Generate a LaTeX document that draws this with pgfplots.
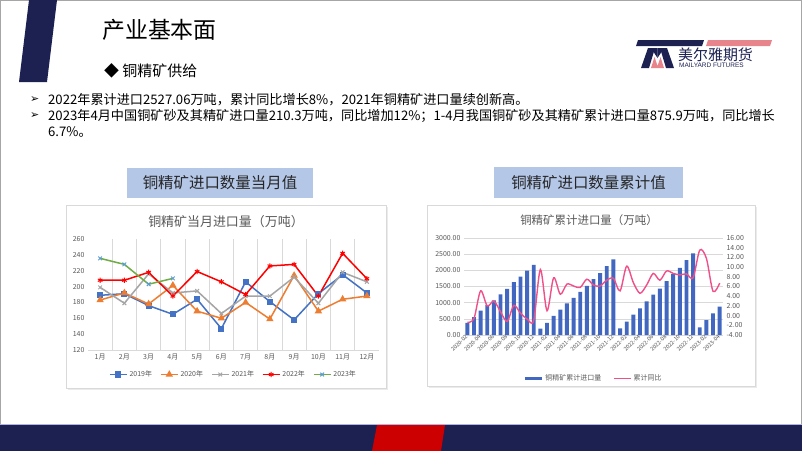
\documentclass[border=0pt]{standalone}
\usepackage{pgfplots}
\pgfplotsset{compat=1.18}
\usepackage{fontspec}
\setmainfont{Noto Sans CJK SC}
\newfontfamily\dejavu{DejaVu Sans}
\newfontfamily\libsans{Liberation Sans}
\definecolor{navy}{HTML}{1C2152}
\definecolor{logopink}{HTML}{E8848C}
\definecolor{boxblue}{HTML}{B4C7E7}
\definecolor{c19}{HTML}{4472C4}
\definecolor{c20}{HTML}{ED7D31}
\definecolor{c21}{HTML}{A5A5A5}
\definecolor{c22}{HTML}{FF0000}
\definecolor{c23}{HTML}{70AD47}
\definecolor{c23m}{HTML}{5B9BD5}
\definecolor{barblue}{HTML}{4267C0}
\definecolor{linepink}{HTML}{F0508A}
\definecolor{txtgray}{HTML}{595959}
\definecolor{gridgray}{HTML}{D9D9D9}
\definecolor{redbar}{HTML}{CC0000}
\begin{document}
\begin{tikzpicture}
\useasboundingbox (0,0) rectangle (802bp,-451bp);
\begin{scope}[x=1bp,y=-1bp]
\fill[white] (0,0) rectangle (802,451);
\draw[gray!70, line width=0.8bp] (0.4,0.4) rectangle (801.6,450.6);
% top-left navy shape
\fill[navy] (29,0) -- (57,0) -- (47,82) -- (19,82) -- cycle;
% title
\node[anchor=west, inner sep=0] at (102,30) {\fontsize{23}{26}\selectfont 产业基本面};
\node[anchor=west, inner sep=0] at (104,71) {\fontsize{15}{18}\selectfont ◆ 铜精矿供给};
% logo
\fill[navy] (638,40) -- (704,40) -- (702,46) -- (636,46) -- cycle;
\fill[logopink] (708,40) -- (772,40) -- (770,46) -- (706,46) -- cycle;
\fill[navy] (641,68) -- (648,48) -- (655,48) -- (649,68) -- cycle;
\fill[navy] (666,68) -- (660,48) -- (667,48) -- (674,68) -- cycle;
\fill[navy] (651,48) -- (657.5,48) -- (657.5,58) -- cycle;
\fill[navy] (664,48) -- (657.5,48) -- (657.5,58) -- cycle;
\fill[logopink] (651,68) -- (654.5,57) -- (657.5,66) -- (660.5,57) -- (664,68) -- cycle;
\node[anchor=west, inner sep=0, text=navy] at (678,55) {\fontsize{15}{16}\selectfont 美尔雅期货};
\node[anchor=west, inner sep=0, text=navy] at (679,65.5) {\libsans\fontsize{6.5}{7}\selectfont MAILYARD FUTURES};
% bullets
\node[anchor=west, inner sep=0] at (30,100) {\dejavu\fontsize{11}{12}\selectfont ➢};
\node[anchor=west, inner sep=0] at (30,116) {\dejavu\fontsize{11}{12}\selectfont ➢};
\node[anchor=west, inner sep=0] at (48,100) {\fontsize{13.2}{14}\selectfont 2022年累计进口2527.06万吨，累计同比增长8\%，2021年铜精矿进口量续创新高。};
\node[anchor=west, inner sep=0] at (48,116) {\fontsize{13.2}{14}\selectfont 2023年4月中国铜矿砂及其精矿进口量210.3万吨，同比增加12\%；1-4月我国铜矿砂及其精矿累计进口量875.9万吨，同比增长};
\node[anchor=west, inner sep=0] at (48,131.5) {\fontsize{13.2}{14}\selectfont 6.7\%。};
% subtitle boxes
\fill[boxblue] (127,168) rectangle (313,198);
\node[text=black!85] at (220,183) {\fontsize{15.5}{17}\selectfont 铜精矿进口数量当月值};
\fill[boxblue] (494,167) rectangle (683,198);
\node[text=black!85] at (588.5,182.5) {\fontsize{15.5}{17}\selectfont 铜精矿进口数量累计值};
% chart frames
\fill[black!8] (67.5,206.5) rectangle (387.5,389.5);
\filldraw[fill=white, draw=gridgray, line width=0.6bp] (66,205) rectangle (386,388);
\fill[black!8] (428.5,206.5) rectangle (756.5,387.5);
\filldraw[fill=white, draw=gridgray, line width=0.6bp] (427,205) rectangle (755,386);
\node[text=txtgray] at (226,222) {\fontsize{13}{15}\selectfont 铜精矿当月进口量（万吨）};
\node[text=txtgray] at (589,220) {\fontsize{11.5}{13}\selectfont 铜精矿累计进口量（万吨）};
% bottom bar
\fill[navy] (0,425) rectangle (802,451);
\draw[black!35!blue!30, line width=0.8bp] (0,424.6) -- (802,424.6);
\fill[redbar] (377,425) -- (445,425) -- (441,451) -- (372,451) -- cycle;
\end{scope}

% ---------- left chart ----------
\begin{axis}[
  at={(88bp,-350bp)}, anchor=south west,
  width=291bp, height=111bp, scale only axis,
  xmin=0.5, xmax=12.5, ymin=120, ymax=260,
  xtick={1,...,12},
  xticklabels={1月,2月,3月,4月,5月,6月,7月,8月,9月,10月,11月,12月},
  ytick={120,140,...,260},
  minor xtick={1.5,2.5,...,11.5}, xminorgrids,
  minor grid style={draw=gridgray, line width=0.6bp},
  axis x line*=bottom, axis y line*=left,
  x axis line style={-, draw=gridgray, line width=0.6bp},
  y axis line style={draw=none},
  major tick length=0, minor tick length=0,
  tick label style={font=\fontsize{7}{8}\selectfont, text=txtgray},
  /pgf/number format/assume math mode=true,
  legend style={at={(0.5,-0.15)}, anchor=north, draw=none, fill=none,
    legend columns=5, font=\fontsize{7}{8}\selectfont, text=txtgray,
    /tikz/every even column/.append style={column sep=6bp}},
  legend cell align=left,
]
\addplot[c19, line width=1.5bp, mark=square*, mark size=2.3bp, mark options={fill=c19}] coordinates {
(1,189) (2,191) (3,176) (4,165) (5,184) (6,147) (7,206) (8,181) (9,158) (10,191) (11,215) (12,192)};
\addlegendentry{2019年}
\addplot[c20, line width=1.5bp, mark=triangle*, mark size=2.8bp, mark options={fill=c20}] coordinates {
(1,183) (2,192) (3,178) (4,201.5) (5,169) (6,160) (7,180) (8,159) (9,214) (10,169) (11,184) (12,188)};
\addlegendentry{2020年}
\addplot[c21, line width=1.5bp, mark=x, mark size=2.6bp, mark options={line width=1bp}] coordinates {
(1,199) (2,179) (3,216) (4,192) (5,194.5) (6,166) (7,188) (8,188) (9,212) (10,179) (11,218) (12,206)};
\addlegendentry{2021年}
\addplot[c22, line width=1.5bp, mark=asterisk, mark size=2.6bp, mark options={line width=1bp}] coordinates {
(1,208) (2,208) (3,218) (4,188) (5,219) (6,206) (7,190) (8,226) (9,228) (10,188) (11,242) (12,210)};
\addlegendentry{2022年}
\addplot[c23, line width=1.5bp, mark=x, mark size=2.6bp, mark options={draw=c23m, line width=1bp}] coordinates {
(1,235.6) (2,228) (3,203) (4,210.3)};
\addlegendentry{2023年}
\end{axis}

% ---------- right chart: bars ----------
\begin{axis}[
  at={(464bp,-335bp)}, anchor=south west,
  width=259bp, height=97bp, scale only axis,
  xmin=-0.5, xmax=38.5, ymin=0, ymax=3000,
  ytick={0,500,...,3000},
  ybar, bar width=3.9bp,
  xtick={0,2,...,38},
  xticklabels={2020-02,2020-04,2020-06,2020-08,2020-10,2020-12,2021-02,2021-04,2021-06,2021-08,2021-10,2021-12,2022-02,2022-04,2022-06,2022-08,2022-10,2022-12,2023-02,2023-04},
  x tick label style={rotate=45, anchor=east, font=\fontsize{5.6}{6}\selectfont, text=txtgray, inner sep=1bp},
  y tick label style={font=\fontsize{7}{8}\selectfont, text=txtgray},
  ymajorgrids, major grid style={draw=gridgray, line width=0.6bp},
  axis x line*=bottom, axis y line*=left,
  x axis line style={-, draw=gridgray, line width=0.6bp},
  y axis line style={draw=none},
  major tick length=0,
  /pgf/number format/assume math mode=true,
  yticklabel style={/pgf/number format/.cd, fixed, fixed zerofill, precision=2, 1000 sep={}},
]
\addplot[fill=barblue, draw=none] coordinates {
(0,375) (1,553) (2,755) (3,924) (4,1070) (5,1255) (6,1423) (7,1634) (8,1803) (9,1990) (10,2172)
(11,195) (12,376) (13,593) (14,785) (15,979) (16,1147) (17,1333) (18,1521) (19,1732) (20,1914) (21,2134) (22,2337)
(23,206) (24,414) (25,628) (26,820) (27,1040) (28,1247) (29,1437) (30,1663) (31,1891) (32,2079) (33,2318) (34,2527)
(35,236) (36,464) (37,666) (38,876)};
\end{axis}

% ---------- right chart: line ----------
\begin{axis}[
  at={(464bp,-335bp)}, anchor=south west,
  width=259bp, height=97bp, scale only axis,
  xmin=-0.5, xmax=38.5, ymin=-4, ymax=16,
  ytick={-4,-2,...,16},
  axis y line*=right, axis x line=none,
  y axis line style={draw=none},
  major tick length=0,
  y tick label style={font=\fontsize{7}{8}\selectfont, text=txtgray},
  /pgf/number format/assume math mode=true,
  yticklabel style={/pgf/number format/.cd, fixed, fixed zerofill, precision=2},
  legend style={at={(0.5,-0.37)}, anchor=north, draw=none, fill=none,
    legend columns=2, font=\fontsize{7}{8}\selectfont, text=txtgray,
    /tikz/every even column/.append style={column sep=10bp}},
]
\addlegendimage{barblue, line width=3bp}
\addlegendentry{铜精矿累计进口量}
\addplot[linepink, line width=1.4bp, smooth, no marks] coordinates {
(0,-1.4) (1,-0.6) (2,5.1) (3,2.0) (4,3.0) (5,0.8) (6,-1.2) (7,2.1) (8,0.5) (9,-0.7) (10,-1.0)
(11,9.5) (12,1.0) (13,7.8) (14,4.4) (15,6.5) (16,6.1) (17,5.8) (18,7.5) (19,6.3) (20,6.1) (21,7.3) (22,7.7)
(23,5.1) (24,10.2) (25,6.8) (26,4.6) (27,6.3) (28,8.7) (29,7.3) (30,9.2) (31,8.7) (32,8.4) (33,8.6) (34,7.8)
(35,13.5) (36,11.8) (37,5.0) (38,6.7)};
\addlegendentry{累计同比}
\end{axis}
\end{tikzpicture}
\end{document}
